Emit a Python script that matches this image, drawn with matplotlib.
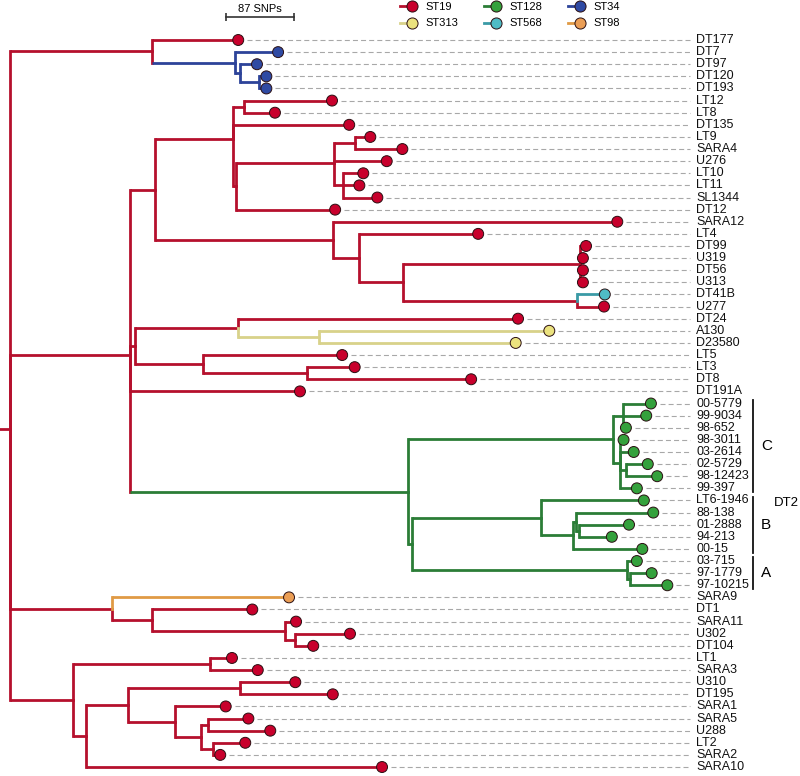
import numpy as np
import matplotlib
matplotlib.use("Agg")
import matplotlib.pyplot as plt
from matplotlib.lines import Line2D
from matplotlib.legend_handler import HandlerBase

plt.rcParams['font.family'] = ['Liberation Sans', 'DejaVu Sans']

# ---------------- data ----------------
tip_names = ["DT177", "DT7", "DT97", "DT120", "DT193", "LT12", "LT8", "DT135", "LT9", "SARA4",
             "U276", "LT10", "LT11", "SL1344", "DT12", "SARA12", "LT4", "DT99", "U319", "DT56",
             "U313", "DT41B", "U277", "DT24", "A130", "D23580", "LT5", "LT3", "DT8", "DT191A",
             "00-5779", "99-9034", "98-652", "98-3011", "03-2614", "02-5729", "98-12423", "99-397",
             "LT6-1946", "88-138", "01-2888", "94-213", "00-15", "03-715", "97-1779", "97-10215",
             "SARA9", "DT1", "SARA11", "U302", "DT104", "LT1", "SARA3", "U310", "DT195", "SARA1",
             "SARA5", "U288", "LT2", "SARA2", "SARA10"]

tip_st = (["ST19"] + ["ST34"] * 4 + ["ST19"] * 16 + ["ST568", "ST19", "ST19", "ST313", "ST313"]
          + ["ST19"] * 4 + ["ST128"] * 16 + ["ST98"] + ["ST19"] * 14)

# distance from root (SNPs)
tip_depth = [292, 343, 316, 328, 328, 412, 339, 434, 461, 502,
             482, 452, 447, 470, 416, 777, 599, 737, 733, 733,
             733, 761, 760, 650, 690, 647, 425, 441, 590, 371,
             820, 814, 788, 785, 798, 816, 828, 802,
             811, 823, 792, 770, 809, 802, 821, 841,
             357, 310, 366, 435, 388, 284, 317, 365, 413, 276,
             305, 333, 301, 269, 476]

tip_parent = ["T1", "B1", "B2", "B3", "B3", "M3", "M3", "M2", "M6", "M6",
              "M5", "M7", "M7", "M7", "M4", "M8", "M9", "M11", "M11", "M11",
              "M11", "M12", "M12", "M14", "M15", "M15", "M16", "M17", "M17", "M",
              "C1", "C1", "C1", "C2", "C2", "C3", "C3", "C2",
              "Bn", "N2", "N3", "N3", "N1", "An", "A1", "A1",
              "P", "P1", "P2", "P3", "P3", "Q1", "Q1", "Q4", "Q4", "Q5",
              "Q7", "Q7", "Q8", "Q8", "Q2"]

node_names = ["root", "T1", "B1", "B2", "B3", "M", "M1", "M2", "M3", "M4", "M5", "M6", "M7",
              "M8", "M9", "M10", "M11", "M12", "M13", "M14", "M15", "M16", "M17",
              "G", "C", "C1", "C2", "C3", "G2", "Bn", "N1", "N2", "N3", "An", "A1",
              "P", "P1", "P2", "P3", "Q", "Q1", "Q2", "Q3", "Q4", "Q5", "Q6", "Q7", "Q8"]
node_parent = [None, "root", "T1", "B1", "B2", "root", "M", "M1", "M2", "M2", "M4", "M5", "M5",
               "M1", "M8", "M9", "M10", "M10", "M", "M13", "M14", "M13", "M16",
               "M", "G", "C", "C", "C2", "G", "G2", "Bn", "N1", "N2", "G2", "An",
               "root", "P", "P1", "P2", "root", "Q", "Q", "Q2", "Q3", "Q3", "Q5", "Q6", "Q6"]
node_depth = [0, 182, 288, 294, 319, 154, 186, 285, 299, 289, 415, 441, 426,
              413, 447, 503, 729, 725, 160, 292, 395, 247, 380,
              509, 772, 784, 780, 788, 514, 679, 720, 724, 728, 789, 793,
              131, 182, 352, 365, 81, 256, 97, 151, 294, 211, 244, 253, 260]

st_labels = ["ST19", "ST128", "ST34", "ST313", "ST568", "ST98"]
st_line = ["#b5102d", "#2b7d37", "#2d4399", "#d8d28a", "#3a9aa6", "#e09a45"]
st_fill = ["#c8002c", "#34a13c", "#2f4aa3", "#ebe27e", "#4fbcc6", "#eb9e55"]

clade_labels = ["C", "B", "A"]
clade_first = ["00-5779", "LT6-1946", "03-715"]
clade_last = ["99-397", "00-15", "97-10215"]
group_label = "DT2"
scale_snps = 87

# ---------------- layout helpers (pixel -> data) ----------------
PX = 87 / 68.0
def X(px):
    return (px - 10) * PX
def Y(py):
    return (py - 40) / 12.117

line_col = dict(zip(st_labels, st_line))
fill_col = dict(zip(st_labels, st_fill))
follow_child = {"ST313", "ST568", "ST98"}

children = {n: [] for n in node_names}
for t, p in zip(tip_names, tip_parent):
    children[p].append(t)
for n, p in zip(node_names, node_parent):
    if p is not None:
        children[p].append(n)
depth = dict(zip(tip_names, tip_depth))
depth.update(zip(node_names, node_depth))
ypos = {t: i for i, t in enumerate(tip_names)}
stmap = dict(zip(tip_names, tip_st))

def gety(n):
    if n not in ypos:
        ypos[n] = float(np.mean([gety(c) for c in children[n]]))
    return ypos[n]

def getst(n):
    if n not in stmap:
        s = {getst(c) for c in children[n]}
        stmap[n] = s.pop() if len(s) == 1 else "ST19"
    return stmap[n]

gety("root")
getst("root")

fig = plt.figure(figsize=(8, 7.76), dpi=100)
ax = fig.add_axes([0, 0, 1, 1])
ax.set_xlim(X(0), X(800))
ax.set_ylim(Y(776), Y(0))
ax.axis("off")

LW = 2.0
edges = list(zip(tip_names, tip_parent)) + [(n, p) for n, p in zip(node_names, node_parent) if p]
for n, p in edges:
    c = getst(n)
    z = 2 if c == "ST19" else 2.5
    ax.plot([depth[p], depth[n]], [ypos[n], ypos[n]], color=line_col[c], lw=LW,
            solid_capstyle="butt", zorder=z)
    vc = c if c in follow_child else getst(p)
    ax.plot([depth[p], depth[p]], [ypos[p], ypos[n]], color=line_col[vc], lw=LW,
            solid_capstyle="projecting", zorder=2 if vc == "ST19" else 2.5)
# root stub
ax.plot([X(0), depth["root"]], [ypos["root"]] * 2, color=line_col["ST19"], lw=LW, zorder=2)

# leaders + labels
rows = np.arange(len(tip_names))
for name, d, r in zip(tip_names, tip_depth, rows):
    ax.plot([d + 9 * PX, X(690)], [r, r], color="#a8a8a8", lw=0.8, dashes=(4.5, 2.8), zorder=1)
    ax.text(X(696), r, name, fontsize=9, va="center", ha="left", color="#111111")

ax.scatter(tip_depth, rows, s=62, c=[fill_col[s] for s in tip_st],
           edgecolors="#2a0f12", linewidths=0.7, zorder=4)

# clade brackets
for lab, a, b in zip(clade_labels, clade_first, clade_last):
    y0, y1 = ypos[a] - 0.3, ypos[b] + 0.3
    ax.plot([X(753)] * 2, [y0, y1], color="#111111", lw=1.3)
    ax.text(X(761), (y0 + y1) / 2, lab, fontsize=11, va="center", ha="left")
ax.text(X(774), ypos["LT6-1946"] + 0.2, group_label, fontsize=9.5, va="center", ha="left")

# scale bar
sb0 = X(226)
ax.plot([sb0, sb0 + scale_snps], [Y(17)] * 2, color="#333333", lw=1.2,
        marker="|", markersize=6, mew=1.2)
ax.text(sb0 + scale_snps / 2, Y(9), f"{scale_snps} SNPs", fontsize=8, ha="center", va="center")

# legend
class LeftLine(HandlerBase):
    def create_artists(self, legend, orig, xdescent, ydescent, width, height, fontsize, trans):
        x0 = -xdescent
        xm = x0 + 0.7 * width
        y = (height - ydescent) / 2
        ln = Line2D([x0, xm], [y, y], color=orig.get_color(), lw=orig.get_linewidth(),
                    marker="o", markevery=[1], markersize=orig.get_markersize(),
                    markerfacecolor=orig.get_markerfacecolor(),
                    markeredgecolor=orig.get_markeredgecolor(), markeredgewidth=0.7)
        ln.set_transform(trans)
        return [ln]

order = [0, 3, 1, 4, 2, 5]
handles = [Line2D([], [], color=line_col[st_labels[i]], lw=2, marker="o", markersize=8,
                  markerfacecolor=fill_col[st_labels[i]], markeredgecolor="#2a0f12")
           for i in order]
labels = [st_labels[i] for i in order]
fig.legend(handles, labels, handler_map={Line2D: LeftLine()}, ncol=3, frameon=False,
           loc="upper left", bbox_to_anchor=(400 / 800, 1.0 - 1.5 / 776), borderpad=0,
           borderaxespad=0, fontsize=8, handlelength=1.6, handletextpad=0.7,
           columnspacing=2.3, labelspacing=0.62)

fig.savefig("out.png", dpi=100)
